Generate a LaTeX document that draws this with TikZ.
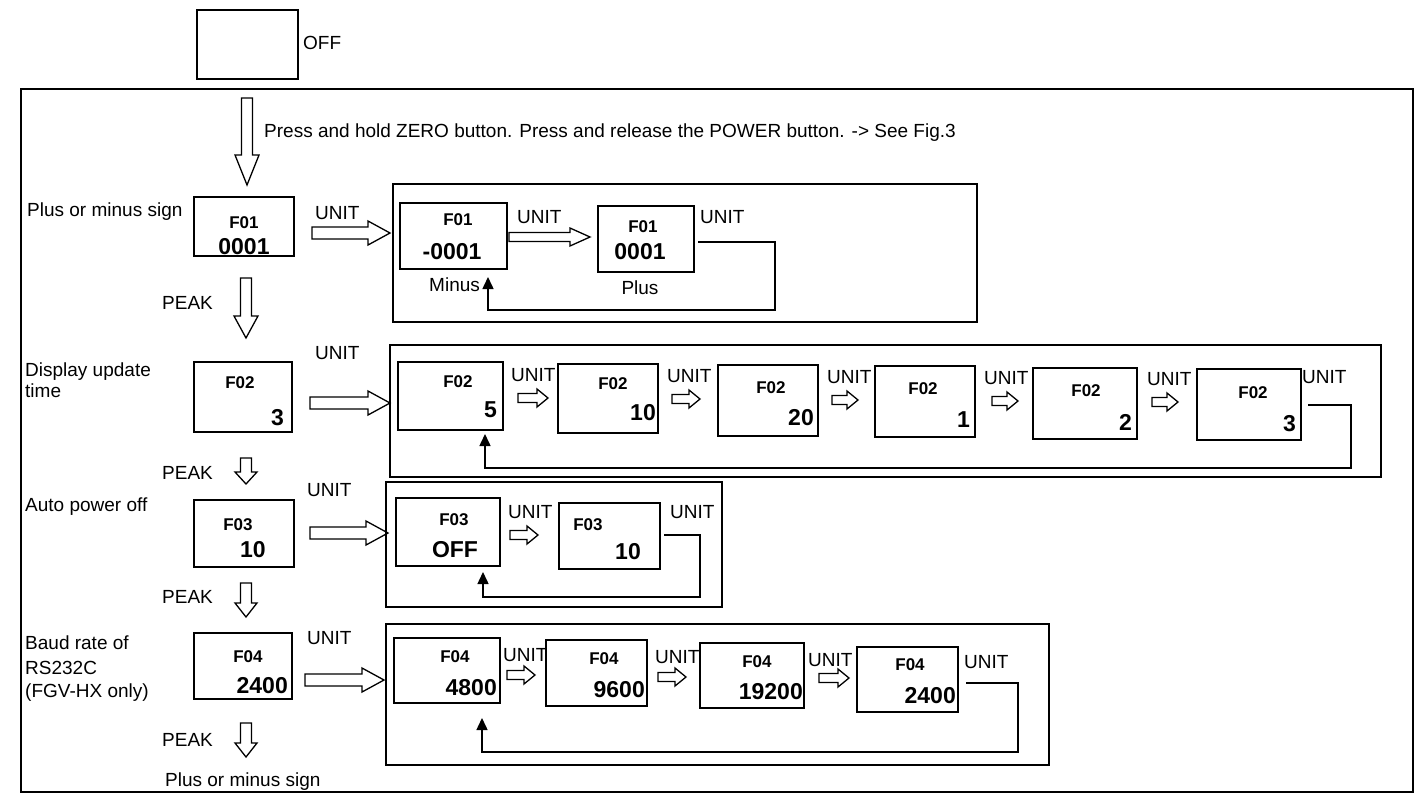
\documentclass[tikz,border=0pt]{standalone}
\usepackage{fontspec}
\setmainfont{Liberation Sans}
\usetikzlibrary{arrows.meta}
\newcommand{\dbx}[5]{\node[dbox, minimum width={(#4)-(#2)}, minimum height={(#5)-(#3)}] (#1) at ({((#2)+(#4))/2},{((#3)+(#5))/2}) {};}
\newcommand{\harR}[6]{\draw[hol] (#1,{#3-#4}) -- ({#2-#6},{#3-#4}) -- ({#2-#6},{#3-#5}) -- (#2,#3) -- ({#2-#6},{#3+#5}) -- ({#2-#6},{#3+#4}) -- (#1,{#3+#4}) -- cycle;}
\newcommand{\harD}[6]{\draw[hol] ({#1-#4},#2) -- ({#1-#4},{#3-#6}) -- ({#1-#5},{#3-#6}) -- (#1,#3) -- ({#1+#5},{#3-#6}) -- ({#1+#4},{#3-#6}) -- ({#1+#4},#2) -- cycle;}
\begin{document}
\begin{tikzpicture}[x=1pt,y=-1pt,
  dbox/.style={draw, line width=1.5pt, inner sep=0pt},
  txt/.style={font=\fontsize{19}{21}\selectfont, inner sep=0pt, anchor=west},
  flab/.style={font=\fontsize{17}{19}\selectfont\bfseries, inner sep=0pt},
  fval/.style={font=\fontsize{23}{25}\selectfont\bfseries, inner sep=0pt},
  fvalr/.style={fval, anchor=east},
  hol/.style={draw, line width=1.3pt, fill=white, line join=miter},
  fb/.style={draw, line width=1.5pt, -{Triangle[length=12pt,width=11pt]}},
]
\useasboundingbox (0,0) rectangle (1424,804);
% top
\dbx{off}{197}{10}{298}{79}
\node[txt] (offl) at (303,43) {OFF};
\dbx{outer}{21}{89}{1413}{792}
\harD{247}{98}{185}{5.5}{12}{30}
\node[txt] (press) at (264,133) {Press and hold ZERO button. Press and release the POWER button. -> See Fig.3};
% row 1
\node[txt] (l1) at (27,212) {Plus or minus sign};
\dbx{f1}{194}{197}{294}{256}
\node[flab] (f1t) at (244,223) {F01};
\node[fval] (f1v) at (244,247) {0001};
\node[txt] (u1) at (315,213) {UNIT};
\harR{312}{390}{233}{6}{12}{22}
\dbx{g1}{393}{184}{977}{322}
\dbx{f1a}{400}{203}{507}{269}
\node[flab] (f1at) at (458,220) {F01};
\node[fval] (f1av) at (452,252) {-0001};
\node[txt] (minus) at (429,285) {Minus};
\node[txt] (u1a) at (517,217) {UNIT};
\harR{509}{590}{237}{4.5}{9}{20}
\dbx{f1b}{598}{206}{694}{272}
\node[flab] (f1bt) at (643,227) {F01};
\node[fval] (f1bv) at (640,252) {0001};
\node[txt, anchor=center] (plus) at (640,288) {Plus};
\node[txt] (u1b) at (700,217) {UNIT};
\draw[fb] (698,242) -- (775,242) -- (775,310) -| (488,277);
\node[txt] (p1) at (162,303) {PEAK};
\harD{246}{278}{338}{5.5}{12}{22}
% row 2
\node[txt] (u2) at (315,353) {UNIT};
\node[txt] (l2a) at (25,372) {Display update};
\node[txt] (l2b) at (25,391) {time};
\dbx{f2}{194}{362}{292}{432}
\node[flab] (f2t) at (240,383) {F02};
\node[fvalr] (f2v) at (284,418) {3};
\harR{310}{390}{403}{6}{12}{22}
\dbx{g2}{390}{345}{1381}{477}
\dbx{f2a}{398}{362}{503}{430}
\node[flab] (f2at) at (458,382) {F02};
\node[fvalr] (f2av) at (497,410) {5};
\node[txt] (u2a) at (511,375) {UNIT};
\harR{518}{548}{398}{4.5}{9}{11}
\dbx{f2b}{558}{364}{658}{433}
\node[flab] (f2bt) at (613,384) {F02};
\node[fvalr] (f2bv) at (656,413) {10};
\node[txt] (u2b) at (667,376) {UNIT};
\harR{672}{700}{399}{4.5}{9}{11}
\dbx{f2c}{718}{365}{818}{436}
\node[flab] (f2ct) at (771,388) {F02};
\node[fvalr] (f2cv) at (814,418) {20};
\node[txt] (u2c) at (827,377) {UNIT};
\harR{832}{858}{400}{4.5}{9}{11}
\dbx{f2d}{875}{366}{975}{437}
\node[flab] (f2dt) at (923,389) {F02};
\node[fvalr] (f2dv) at (970,420) {1};
\node[txt] (u2d) at (984,378) {UNIT};
\harR{992}{1018}{401}{4.5}{9}{11}
\dbx{f2e}{1033}{368}{1137}{439}
\node[flab] (f2et) at (1086,391) {F02};
\node[fvalr] (f2ev) at (1132,422) {2};
\node[txt] (u2e) at (1147,379) {UNIT};
\harR{1152}{1178}{402}{4.5}{9}{11}
\dbx{f2f}{1197}{369}{1301}{440}
\node[flab] (f2ft) at (1253,393) {F02};
\node[fvalr] (f2fv) at (1296,424) {3};
\node[txt] (u2f) at (1302,377) {UNIT};
\draw[fb] (1308,405) -- (1351,405) -- (1351,468) -| (485,434);
\node[txt] (p2) at (162,473) {PEAK};
\harD{246}{458}{484}{5.5}{11}{12}
% row 3
\node[txt] (u3) at (307,490) {UNIT};
\node[txt] (l3) at (25,507) {Auto power off};
\dbx{f3}{194}{500}{294}{567}
\node[flab] (f3t) at (238,525) {F03};
\node[fval] (f3v) at (253,550) {10};
\harR{310}{388}{533}{6}{12}{22}
\dbx{g3}{386}{482}{722}{607}
\dbx{f3a}{396}{498}{500}{566}
\node[flab] (f3at) at (454,520) {F03};
\node[fval] (f3av) at (455,550) {OFF};
\node[txt] (u3a) at (508,512) {UNIT};
\harR{510}{538}{535}{4.5}{9}{11}
\dbx{f3b}{559}{503}{660}{569}
\node[flab] (f3bt) at (588,525) {F03};
\node[fval] (f3bv) at (628,552) {10};
\node[txt] (u3b) at (670,512) {UNIT};
\draw[fb] (664,535) -- (700,535) -- (700,597) -| (483,572);
\node[txt] (p3) at (162,597) {PEAK};
\harD{246}{583}{617}{5.5}{11}{14}
% row 4
\node[txt] (l4a) at (25,643) {Baud rate of};
\node[txt] (l4b) at (25,668) {RS232C};
\node[txt] (l4c) at (25,693) {(FGV-HX only)};
\dbx{f4}{194}{633}{292}{699}
\node[flab] (f4t) at (248,657) {F04};
\node[fvalr] (f4v) at (288,686) {2400};
\node[txt] (u4) at (307,638) {UNIT};
\harR{305}{384}{680}{6}{12}{22}
\dbx{g4}{386}{624}{1049}{765}
\dbx{f4a}{394}{638}{500}{703}
\node[flab] (f4at) at (455,657) {F04};
\node[fvalr] (f4av) at (497,688) {4800};
\node[txt] (u4a) at (503,655) {UNIT};
\harR{507}{535}{675}{4.5}{9}{11}
\dbx{f4b}{546}{640}{647}{706}
\node[flab] (f4bt) at (604,659) {F04};
\node[fvalr] (f4bv) at (645,690) {9600};
\node[txt] (u4b) at (655,657) {UNIT};
\harR{658}{686}{677}{4.5}{9}{11}
\dbx{f4c}{700}{643}{804}{708}
\node[flab] (f4ct) at (757,662) {F04};
\node[fvalr] (f4cv) at (803,692) {19200};
\node[txt] (u4c) at (808,660) {UNIT};
\harR{819}{849}{678}{4.5}{9}{11}
\dbx{f4d}{857}{647}{958}{712}
\node[flab] (f4dt) at (910,665) {F04};
\node[fvalr] (f4dv) at (956,696) {2400};
\node[txt] (u4d) at (964,662) {UNIT};
\draw[fb] (966,683) -- (1018,683) -- (1018,752) -| (482,718);
\node[txt] (p4) at (162,740) {PEAK};
\harD{246}{723}{757}{5.5}{11}{14}
\node[txt] (l5) at (165,782) {Plus or minus sign};
\end{tikzpicture}
\end{document}
